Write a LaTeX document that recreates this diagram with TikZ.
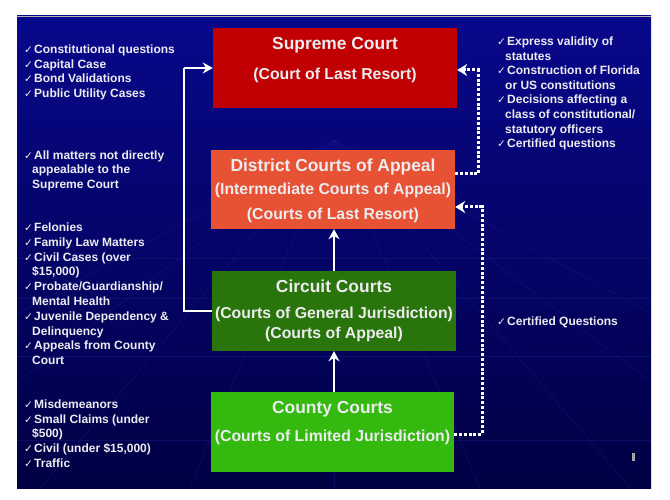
\documentclass[tikz,border=0pt]{standalone}
\usepackage{fontspec}
\setmainfont{Liberation Sans}
\newfontfamily\chkfont{DejaVu Sans}
\usetikzlibrary{arrows.meta}
\definecolor{bgtop}{RGB}{8,8,140}
\definecolor{bgmid}{RGB}{4,4,118}
\definecolor{bgbot}{RGB}{0,0,68}
\definecolor{bgline}{RGB}{40,40,165}
\definecolor{txt}{RGB}{236,236,240}
\definecolor{supred}{RGB}{192,0,2}
\definecolor{dcaorange}{RGB}{232,82,52}
\definecolor{ccgreen}{RGB}{42,116,12}
\definecolor{ctygreen}{RGB}{52,186,14}
\newcommand\ck{\makebox[10pt][l]{\chkfont\fontsize{10.5}{10}\selectfont ✓}}
\tikzset{
  courtbox/.style={draw=none, inner sep=0, minimum width=244pt, minimum height=80pt},
  btitle/.style={anchor=base, inner sep=0, text=txt, font=\bfseries\fontsize{17.4}{20}\selectfont},
  bsub/.style={anchor=base, inner sep=0, text=txt, font=\bfseries\fontsize{15.8}{18}\selectfont},
  lt/.style={anchor=base west, inner sep=0, text=txt, font=\bfseries\fontsize{12}{14}\selectfont},
  solidarrow/.style={draw=white, line width=2.4pt, -{Stealth[length=10pt,width=11pt]}},
  solidline/.style={draw=white, line width=2.4pt},
  dotarrow/.style={draw=white, line width=3pt, dash pattern=on 3pt off 1.8pt, -{Stealth[length=10pt,width=12pt]}}
}
\begin{document}
\begin{tikzpicture}[x=1pt,y=-1pt]
\useasboundingbox (0,0) rectangle (670,500);
% background
\shade[top color=bgtop, middle color=bgmid, bottom color=bgbot] (17,16) rectangle (651,488);
\begin{scope}[draw=bgline, line width=0.6pt, opacity=0.3]
  \clip (17,16) rectangle (651,488);
  \foreach \xx in {-300,-120,40,190,334,480,630,790,970}
    \draw (334,140) -- (\xx,488);
  \draw (17,258) -- (651,258);
  \draw (17,298) -- (651,298);
  \draw (17,356) -- (651,356);
  \draw (17,440) -- (651,440);
\end{scope}
\draw[gray!60, line width=0.8pt] (17,16) -- (651,16);

% court boxes
\node[courtbox, fill=supred]    (sc)  at (335,68)    {};
\node[courtbox, fill=dcaorange, minimum height=79pt] (dca) at (333,189.5) {};
\node[courtbox, fill=ccgreen]   (cc)  at (334,311)   {};
\node[courtbox, fill=ctygreen, minimum width=243pt] (cty) at (332.5,432) {};

% box texts
\node[btitle] (sc1)  at (335,50)  {Supreme Court};
\node[bsub]   (sc2)  at (335,80)  {(Court of Last Resort)};
\node[btitle] (dca1) at (333,172) {District Courts of Appeal};
\node[bsub]   (dca2) at (333,195) {(Intermediate Courts of Appeal)};
\node[bsub]   (dca3) at (333,219) {(Courts of Last Resort)};
\node[btitle] (cc1)  at (334,292) {Circuit Courts};
\node[bsub]   (cc2)  at (334,318) {(Courts of General Jurisdiction)};
\node[bsub]   (cc3)  at (334,338) {(Courts of Appeal)};
\node[btitle] (cty1) at (332.5,413) {County Courts};
\node[bsub]   (cty2) at (332.5,441) {(Courts of Limited Jurisdiction)};

% connectors
\draw[solidarrow] (cty.north -| cc.south) -- (cc.south);
\draw[solidarrow] (cc.north) -- (cc.north |- dca.south);
\coordinate (lb) at (184,311);
\coordinate (lt) at (184,68);
\draw[solidline] (cc.west) -- (lb) -- (lt);
\draw[solidarrow] (lt) -- (sc.west);
\coordinate (d1) at (482,434);
\coordinate (d2) at (482,207);
\draw[dotarrow] ([yshift=-2pt]cty.east) -- (d1) -- (d2) -- ([yshift=-17.5pt]dca.east);
\coordinate (e1) at (478,174);
\coordinate (e2) at (478,70);
\draw[dotarrow] ([yshift=15.5pt]dca.east) -- (e1) -- (e2) -- ([yshift=-2pt]sc.east);

% left texts
\node[lt] (l1)  at (24,53.5)  {\ck Constitutional questions};
\node[lt] (l2)  at (24,68.2)  {\ck Capital Case};
\node[lt] (l3)  at (24,82.9)  {\ck Bond Validations};
\node[lt] (l4)  at (24,97.6)  {\ck Public Utility Cases};

\node[lt] (l5)  at (24,159.5) {\ck All matters not directly};
\node[lt] (l6)  at (32,174)   {appealable to the};
\node[lt] (l7)  at (32,188.5) {Supreme Court};

\node[lt] (l8)  at (24,231.5) {\ck Felonies};
\node[lt] (l9)  at (24,246.3) {\ck Family Law Matters};
\node[lt] (l10) at (24,261.1) {\ck Civil Cases (over};
\node[lt] (l11) at (32,275.9) {\$15,000)};
\node[lt] (l12) at (24,290.7) {\ck Probate/Guardianship/};
\node[lt] (l13) at (32,305.5) {Mental Health};
\node[lt] (l14) at (24,320.3) {\ck Juvenile Dependency \&};
\node[lt] (l15) at (32,335.1) {Delinquency};
\node[lt] (l16) at (24,349.9) {\ck Appeals from County};
\node[lt] (l17) at (32,364.7) {Court};

\node[lt] (l18) at (24,408.5) {\ck Misdemeanors};
\node[lt] (l19) at (24,423.2) {\ck Small Claims (under};
\node[lt] (l20) at (32,437.9) {\$500)};
\node[lt] (l21) at (24,452.6) {\ck Civil (under \$15,000)};
\node[lt] (l22) at (24,467.3) {\ck Traffic};

% right texts
\node[lt] (r1) at (497,45.5)  {\ck Express validity of};
\node[lt] (r2) at (505,60.1)  {statutes};
\node[lt] (r3) at (497,74.7)  {\ck Construction of Florida};
\node[lt] (r4) at (505,89.3)  {or US constitutions};
\node[lt] (r5) at (497,103.9) {\ck Decisions affecting a};
\node[lt] (r6) at (505,118.5) {class of constitutional/};
\node[lt] (r7) at (505,133.1) {statutory officers};
\node[lt] (r8) at (497,147.7) {\ck Certified questions};

\node[lt] (r9) at (497,325.5) {\ck Certified Questions};

% small mark
\fill[gray!70] (632,453) rectangle (634.5,461);
\end{tikzpicture}
\end{document}
